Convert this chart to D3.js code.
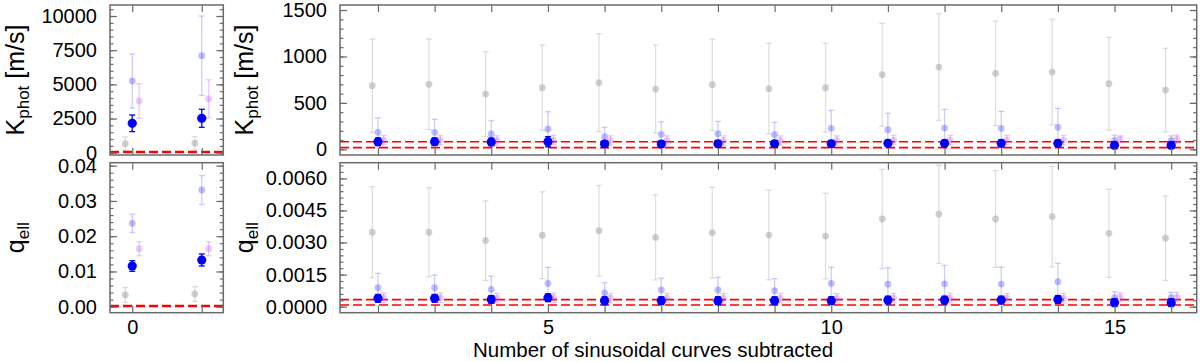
<!DOCTYPE html>
<html>
<head>
<meta charset="utf-8">
<script src="https://cdn.jsdelivr.net/npm/d3@7"></script>
<style>
  body { margin: 0; background: #fff; }
  svg { display: block; font-family: "Liberation Sans", Arial, Helvetica, sans-serif; }
</style>
</head>
<body>
<svg class="fig" width="1200" height="362"></svg>
<script>
// number of sinusoidal curves subtracted
const nSub = [0, 1, 2, 3, 4, 5, 6, 7, 8, 9, 10, 11, 12, 13, 14, 15, 16]

// K_phot [m/s] : value and error for each series
const kGray = [658, 688, 685, 700, 595, 663, 717, 649, 696, 653, 663, 803, 886, 818, 832, 706, 638]
const kGrayErr = [490, 482, 503, 488, 456, 460, 528, 474, 492, 488, 478, 554, 574, 563, 568, 500, 450]
const kLight = [5245, 7096, 183, 183, 165, 219, 136, 162, 168, 157, 226, 211, 229, 226, 237, 96, 96]
const kLightErr = [1975, 2904, 157, 140, 143, 186, 101, 135, 133, 134, 194, 177, 202, 183, 204, 58, 50]
const kPink = [3782, 3950, 100, 100, 95, 100, 95, 95, 95, 95, 95, 100, 100, 100, 100, 110, 110]
const kPinkErr = [1266, 1390, 50, 50, 50, 50, 50, 50, 50, 50, 50, 50, 50, 50, 50, 35, 45]
const kBlue = [2150, 2516, 82, 82, 80, 82, 57, 57, 60, 60, 60, 65, 65, 65, 65, 43, 43]
const kBlueErr = [608, 659, 40, 40, 40, 55, 35, 35, 35, 35, 35, 35, 35, 35, 35, 35, 35]
const kRef = [18, 82]

// q_ell
const qGray = [0.00332, 0.0036, 0.00348, 0.00348, 0.00309, 0.00334, 0.00355, 0.00324, 0.00346, 0.00335, 0.0033, 0.0041, 0.00432, 0.0041, 0.00421, 0.00343, 0.0032]
const qGrayErr = [0.0021, 0.0021, 0.00213, 0.00208, 0.00186, 0.00203, 0.00212, 0.00199, 0.00212, 0.00209, 0.002, 0.00232, 0.0023, 0.00226, 0.00235, 0.00206, 0.00197]
const qLight = [0.02366, 0.0331, 0.00089, 0.00089, 0.00081, 0.00109, 0.00065, 0.00078, 0.00078, 0.00075, 0.00109, 0.00105, 0.00107, 0.00106, 0.00117, 0.00042, 0.00042]
const qLightErr = [0.0026, 0.0041, 0.00067, 0.00059, 0.00062, 0.00075, 0.00047, 0.00055, 0.00059, 0.00056, 0.00075, 0.00077, 0.00086, 0.00078, 0.00086, 0.00028, 0.00025]
const qPink = [0.01645, 0.01645, 0.00042, 0.00042, 0.0004, 0.00042, 0.0004, 0.0004, 0.00039, 0.0004, 0.00039, 0.0004, 0.00041, 0.0004, 0.0004, 0.00045, 0.00045]
const qPinkErr = [0.002, 0.002, 0.00022, 0.00022, 0.00022, 0.00022, 0.00022, 0.00022, 0.00022, 0.00022, 0.00022, 0.00022, 0.00022, 0.00022, 0.00022, 0.0002, 0.00022]
const qBlue = [0.01155, 0.01325, 0.00039, 0.00039, 0.00034, 0.00042, 0.00028, 0.00028, 0.00028, 0.00028, 0.00028, 0.00031, 0.00031, 0.00031, 0.00034, 0.00019, 0.00019]
const qBlueErr = [0.0015, 0.0017, 0.00018, 0.00018, 0.00018, 0.00018, 0.00018, 0.00018, 0.00018, 0.00018, 0.00018, 0.00018, 0.00018, 0.00018, 0.00018, 0.00018, 0.00018]
const qRef = [0.00008, 0.00033]

// tick labels
const kTicksLeft = [0, 2500, 5000, 7500, 10000]
const kTicksRight = [0, 500, 1000, 1500]
const qTicksLeft = [0, 0.01, 0.02, 0.03, 0.04]
const qTicksRight = [0, 0.0015, 0.003, 0.0045, 0.006]
const xTicksLeft = [0, 1]
const xLabelsLeft = [0]
const xTicksRight = [2, 3, 4, 5, 6, 7, 8, 9, 10, 11, 12, 13, 14, 15, 16]
const xLabelsRight = [5, 10, 15]

const svg = d3.select("svg.fig")

const frameColor = "#6a6a6a"

// series styles: x offset, fill, error colour, radius
const styles = [
    {dx: -0.1, fill: "rgba(150,150,150,0.45)", err: "rgba(150,150,150,0.3)", r: 3.4},
    {dx: 0, fill: "rgba(0,0,255,0.26)", err: "rgba(0,0,255,0.2)", r: 3.4},
    {dx: 0.1, fill: "rgba(190,80,230,0.3)", err: "rgba(190,80,230,0.3)", r: 3.4},
    {dx: 0, fill: "#0000ff", err: "#0000ff", r: 4.6}
]

function drawPanel(p) {
    const x = d3.scaleLinear().domain(p.xDomain).range([p.left, p.right])
    const y = d3.scaleLinear().domain(p.yDomain).range([p.bottom, p.top])
    const g = svg.append("g")

    // reference lines
    g.selectAll("line.ref")
        .data(p.ref)
        .enter()
        .append("line")
        .attr("class", "ref")
        .attr("x1", p.left)
        .attr("x2", p.right)
        .attr("y1", d => y(d))
        .attr("y2", d => y(d))
        .attr("stroke", "#ff0000")
        .attr("stroke-width", 1.6)
        .attr("stroke-dasharray", "9,4")

    const idx = nSub.map((n, i) => i).filter(i => nSub[i] >= p.xDomain[0] && nSub[i] <= p.xDomain[1])

    p.series.forEach((s, k) => {
        const st = styles[k]
        const sg = g.append("g")
        const pts = idx.map(i => ({n: nSub[i] + st.dx, v: s[0][i], e: s[1][i]}))

        sg.selectAll("line.bar")
            .data(pts)
            .enter()
            .append("line")
            .attr("x1", d => x(d.n))
            .attr("x2", d => x(d.n))
            .attr("y1", d => y(d.v - d.e))
            .attr("y2", d => y(d.v + d.e))
            .attr("stroke", st.err)
            .attr("stroke-width", 1.3)

        ;["lo", "hi"].forEach(side => {
            sg.selectAll("line." + side)
                .data(pts)
                .enter()
                .append("line")
                .attr("x1", d => x(d.n) - 3)
                .attr("x2", d => x(d.n) + 3)
                .attr("y1", d => y(side == "lo" ? d.v - d.e : d.v + d.e))
                .attr("y2", d => y(side == "lo" ? d.v - d.e : d.v + d.e))
                .attr("stroke", st.err)
                .attr("stroke-width", 1.3)
        })

        sg.selectAll("circle")
            .data(pts)
            .enter()
            .append("circle")
            .attr("cx", d => x(d.n))
            .attr("cy", d => y(d.v))
            .attr("r", st.r)
            .attr("fill", st.fill)
    })

    // axes, ticks all pointing inward
    const minor = d3.range(Math.ceil(p.yDomain[0] / p.minor) * p.minor, p.yDomain[1], p.minor)

    const styleAxis = sel => {
        sel.select(".domain").remove()
        sel.selectAll("line").attr("stroke", frameColor).attr("stroke-width", 1.2)
        sel.selectAll("text").attr("fill", "#000").style("font-size", "20px")
            .style("font-family", "'Liberation Sans', Arial, sans-serif")
    }

    g.append("g").attr("transform", `translate(${p.left},0)`)
        .call(d3.axisLeft(y).tickValues(p.yTicks).tickSize(-7).tickPadding(13).tickFormat(d3.format(p.fmt)))
        .call(styleAxis)
    g.append("g").attr("transform", `translate(${p.left},0)`)
        .call(d3.axisLeft(y).tickValues(minor).tickSize(-3.5).tickFormat(""))
        .call(styleAxis)
    g.append("g").attr("transform", `translate(${p.right},0)`)
        .call(d3.axisRight(y).tickValues(p.yTicks).tickSize(-7).tickFormat(""))
        .call(styleAxis)
    g.append("g").attr("transform", `translate(${p.right},0)`)
        .call(d3.axisRight(y).tickValues(minor).tickSize(-3.5).tickFormat(""))
        .call(styleAxis)
    g.append("g").attr("transform", `translate(0,${p.top})`)
        .call(d3.axisTop(x).tickValues(p.xTicks).tickSize(-7).tickFormat(""))
        .call(styleAxis)
    g.append("g").attr("transform", `translate(0,${p.bottom})`)
        .call(d3.axisBottom(x).tickValues(p.xTicks).tickSize(-7).tickPadding(7)
            .tickFormat(d => p.xLabels && p.xLabels.includes(d) ? d : ""))
        .call(styleAxis)

    g.append("rect")
        .attr("x", p.left)
        .attr("y", p.top)
        .attr("width", p.right - p.left)
        .attr("height", p.bottom - p.top)
        .attr("fill", "none")
        .attr("stroke", frameColor)
        .attr("stroke-width", 1.5)

    // y label with subscript
    const lab = svg.append("text")
        .attr("transform", `translate(${p.labelX},${(p.top + p.bottom) / 2}) rotate(-90)`)
        .attr("text-anchor", "middle")
        .style("font-size", "25px")
    lab.append("tspan").text(p.label[0])
    lab.append("tspan").attr("dy", 5).style("font-size", "17px").text(p.label[1])
    if (p.label[2]) lab.append("tspan").attr("dy", -5).text(p.label[2])
}

const top1 = 5, bot1 = 155, top2 = 162.7, bot2 = 312.7
const leftX = [-0.32, 1.31], rightX = [1.33, 16.45]

drawPanel({left: 110, right: 223.3, top: top1, bottom: bot1, xDomain: leftX, yDomain: [-170, 10805],
    series: [[kGray, kGrayErr], [kLight, kLightErr], [kPink, kPinkErr], [kBlue, kBlueErr]],
    ref: kRef, yTicks: kTicksLeft, minor: 500, fmt: "d", xTicks: xTicksLeft, xLabels: null,
    labelX: 24, label: ["K", "phot", " [m/s]"]})

drawPanel({left: 340, right: 1196.7, top: top1, bottom: bot1, xDomain: rightX, yDomain: [-61, 1554],
    series: [[kGray, kGrayErr], [kLight, kLightErr], [kPink, kPinkErr], [kBlue, kBlueErr]],
    ref: kRef, yTicks: kTicksRight, minor: 100, fmt: "d", xTicks: xTicksRight, xLabels: null,
    labelX: 253, label: ["K", "phot", " [m/s]"]})

drawPanel({left: 110, right: 223.3, top: top2, bottom: bot2, xDomain: leftX, yDomain: [-0.0017, 0.04085],
    series: [[qGray, qGrayErr], [qLight, qLightErr], [qPink, qPinkErr], [qBlue, qBlueErr]],
    ref: qRef, yTicks: qTicksLeft, minor: 0.002, fmt: ".2f", xTicks: xTicksLeft, xLabels: xLabelsLeft,
    labelX: 24, label: ["q", "ell"]})

drawPanel({left: 340, right: 1196.7, top: top2, bottom: bot2, xDomain: rightX, yDomain: [-0.00028, 0.00673],
    series: [[qGray, qGrayErr], [qLight, qLightErr], [qPink, qPinkErr], [qBlue, qBlueErr]],
    ref: qRef, yTicks: qTicksRight, minor: 0.0003, fmt: ".4f", xTicks: xTicksRight, xLabels: xLabelsRight,
    labelX: 253, label: ["q", "ell"]})

svg.append("text")
    .attr("x", 653)
    .attr("y", 357)
    .attr("text-anchor", "middle")
    .style("font-size", "20.5px")
    .text("Number of sinusoidal curves subtracted")
</script>
</body>
</html>
